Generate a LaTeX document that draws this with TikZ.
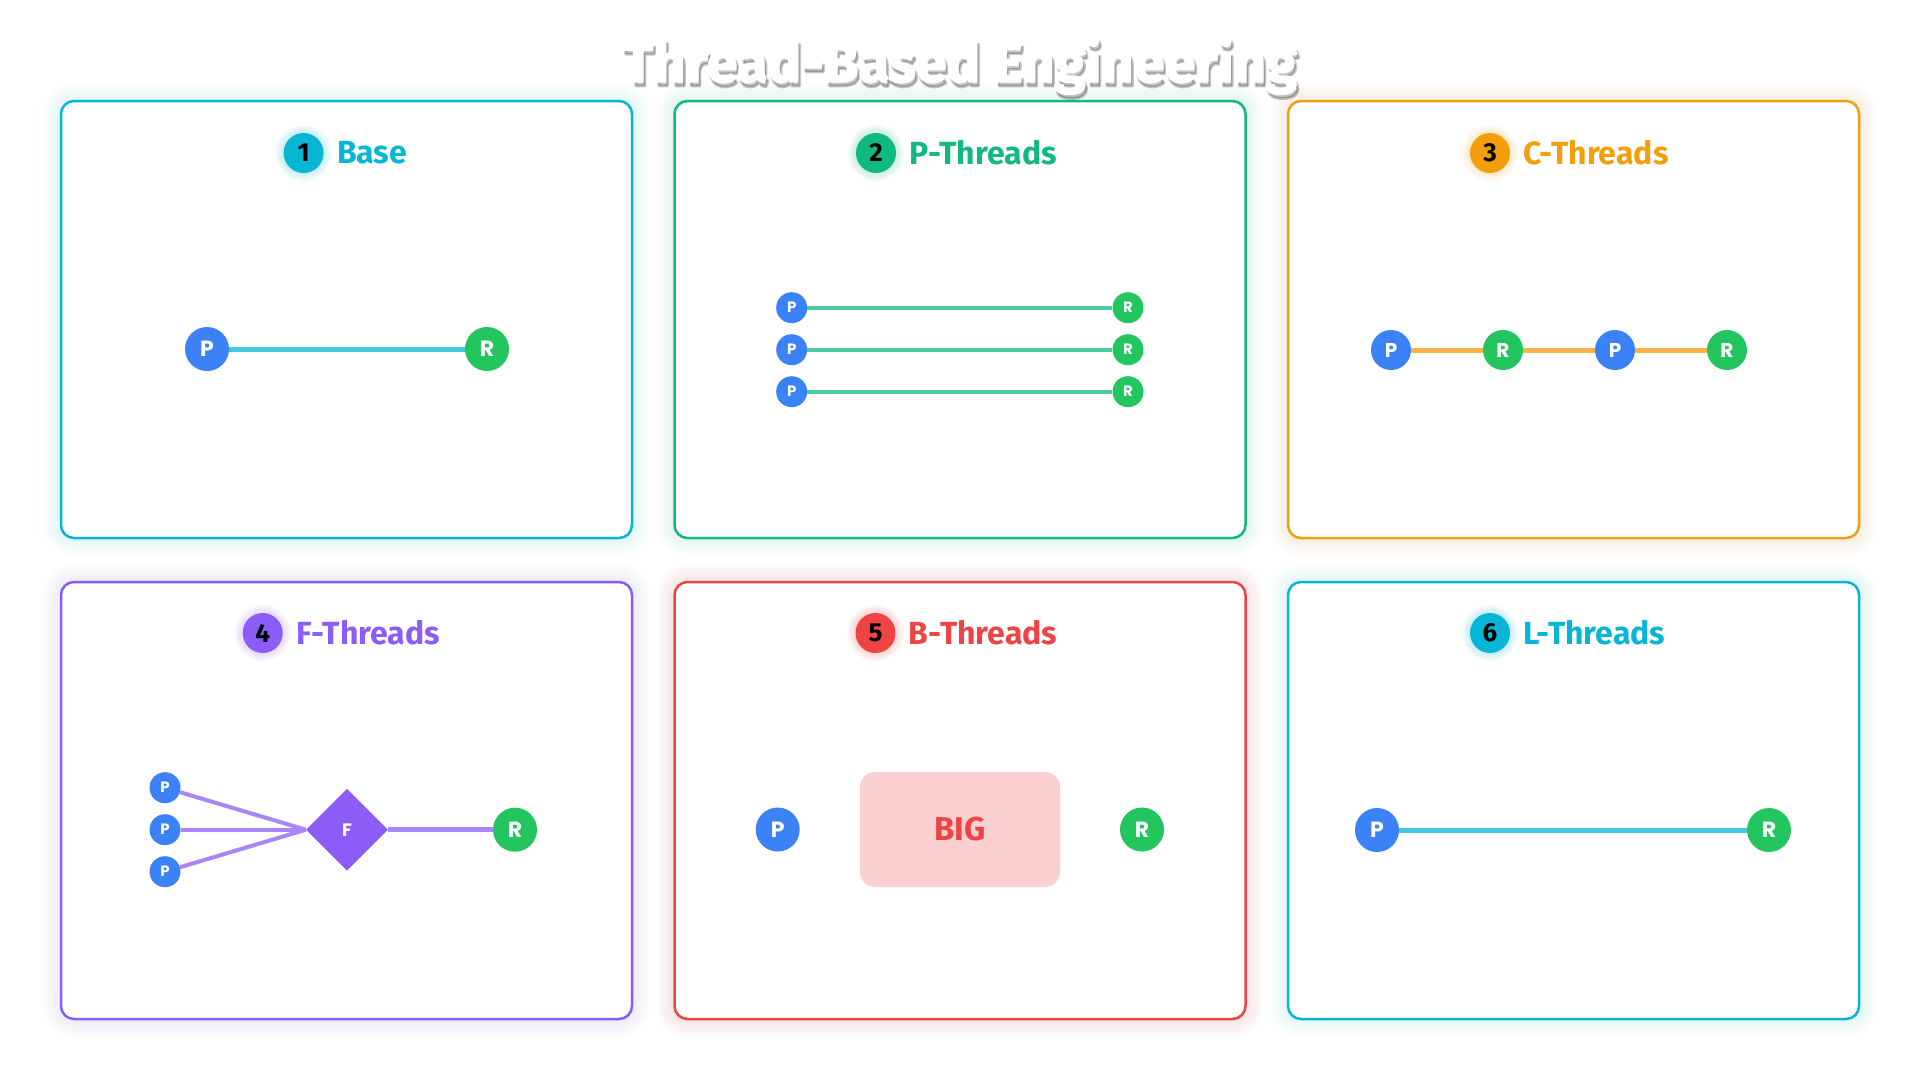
\documentclass[tikz,border=0pt]{standalone}
\usepackage{fontspec}
\setmainfont{Fira Sans}
\newfontfamily\dotfont{Poppins}
\newfontfamily\titlefont[FakeBold=2.5]{Fira Sans}
\newfontfamily\shadefont[FakeBold=5]{Fira Sans}
\usepackage{tikz}
\usetikzlibrary{shapes.geometric,positioning}
\definecolor{baseC}{HTML}{06B6D4}
\definecolor{parC}{HTML}{10B981}
\definecolor{chainC}{HTML}{F59E0B}
\definecolor{fusionC}{HTML}{8B5CF6}
\definecolor{bigC}{HTML}{EF4444}
\definecolor{promptC}{HTML}{3B82F6}
\definecolor{reviewC}{HTML}{22C55E}

\begin{document}
\begin{tikzpicture}[line cap=round,line join=round,x=1pt,y=-1pt,
    panel/.style={line width=2.5pt,rounded corners=13pt,fill=white},
    badge/.style={circle,fill=#1,minimum size=40pt,inner sep=0pt,text=black,font=\bfseries\fontsize{26}{28}\selectfont},
    head/.style={text=#1,inner sep=0pt,font=\bfseries\fontsize{32}{36}\selectfont},
    pdot/.style={circle,fill=promptC,minimum size=44pt,inner sep=0pt,text=white,font=\dotfont\bfseries\fontsize{22}{24}\selectfont},
    rdot/.style={pdot,fill=reviewC},
    pmid/.style={pdot,minimum size=40pt,font=\dotfont\bfseries\fontsize{20}{22}\selectfont},
    rmid/.style={pmid,fill=reviewC},
    psmall/.style={pdot,minimum size=31pt,font=\dotfont\bfseries\fontsize{15}{16}\selectfont},
    rsmall/.style={psmall,fill=reviewC},
    fuse/.style={diamond,fill=fusionC,minimum width=82pt,minimum height=82pt,inner sep=0pt,text=white,font=\dotfont\bfseries\fontsize{18}{20}\selectfont},
    bigbox/.style={rectangle,rounded corners=15pt,fill=bigC!25,minimum width=200pt,minimum height=115pt,text=bigC,font=\bfseries\fontsize{33}{36}\selectfont},
    thread/.style={draw=#1!75,line width=5pt,line cap=butt},
    title/.style={anchor=base,font=\titlefont\bfseries\fontsize{56}{62}\selectfont}]
  \fill[white] (0,0) rectangle (1920,1080);
  \useasboundingbox (0,0) rectangle (1920,1080);

  \foreach \x/\y/\c in {61/101/baseC,674.5/101/parC,1288/101/chainC,61/582/fusionC,674.5/582/bigC,1288/582/baseC}{
    \foreach \g [evaluate=\g as \rc using 13+2*\g] in {1,...,9}
      \fill[\c,opacity=0.013,rounded corners=\rc pt] ({\x-2*\g},{\y-2*\g}) rectangle ({\x+571+2*\g},{\y+437+2*\g});
  }
  \draw[panel,draw=baseC] (61,101) rectangle (632,538);
  \draw[panel,draw=parC] (674.5,101) rectangle (1245.5,538);
  \draw[panel,draw=chainC] (1288,101) rectangle (1859,538);
  \draw[panel,draw=fusionC] (61,582) rectangle (632,1019);
  \draw[panel,draw=bigC] (674.5,582) rectangle (1245.5,1019);
  \draw[panel,draw=baseC] (1288,582) rectangle (1859,1019);

  \node[title,font=\shadefont\bfseries\fontsize{56}{62}\selectfont,text=black,opacity=0.22] (ttlshade) at (962,86) {Thread-Based Engineering};
  \node[title,text=white] (ttl) at (960,82) {Thread-Based Engineering};

  \foreach \n/\bx/\by/\c/\t in {1/303.6/153/baseC/Base,2/876/153/parC/P-Threads,3/1490/153/chainC/C-Threads,4/262.7/633/fusionC/F-Threads,5/875.5/633/bigC/B-Threads,6/1490/633/baseC/L-Threads}{
    \foreach \g in {1,...,4}
      \fill[\c,opacity=0.05] (\bx,\by) circle ({20+2*\g});
    \node[badge=\c] (b\n) at (\bx,\by) {\n};
    \node[head=\c,right=13pt of b\n] (h\n) {\t};
  }

  \node[pdot] (p1) at (207,349) {P};
  \node[rdot] (r1) at (487,349) {R};
  \draw[thread=baseC] (p1) -- (r1);

  \foreach \i/\yy in {a/307.7,b/349.7,c/391.7}{
    \node[psmall] (p2\i) at (791.7,\yy) {P};
    \node[rsmall] (r2\i) at (1128,\yy) {R};
    \draw[thread=parC,line width=4pt] (p2\i) -- (r2\i);
  }

  \node[pmid] (p3a) at (1391,350) {P};
  \node[rmid] (r3a) at (1503,350) {R};
  \node[pmid] (p3b) at (1615,350) {P};
  \node[rmid] (r3b) at (1727,350) {R};
  \draw[thread=chainC] (p3a) -- (r3a);
  \draw[thread=chainC] (r3a) -- (p3b);
  \draw[thread=chainC] (p3b) -- (r3b);

  \node[fuse] (f4) at (347,829.7) {F};
  \node[rdot] (r4) at (515,829.7) {R};
  \foreach \i/\yy in {a/787.7,b/829.7,c/871.7}{
    \node[psmall] (p4\i) at (165,\yy) {P};
    \draw[thread=fusionC,line width=4pt] (p4\i) -- (f4.west);
  }
  \draw[thread=fusionC] (f4.east) -- (r4);

  \node[pdot] (p5) at (777.7,829.5) {P};
  \node[bigbox] (big5) at (960,829.5) {BIG};
  \node[rdot] (r5) at (1142,829.5) {R};

  \node[pdot] (p6) at (1377,830) {P};
  \node[rdot] (r6) at (1769,830) {R};
  \draw[thread=baseC] (p6) -- (r6);
\end{tikzpicture}
\end{document}
